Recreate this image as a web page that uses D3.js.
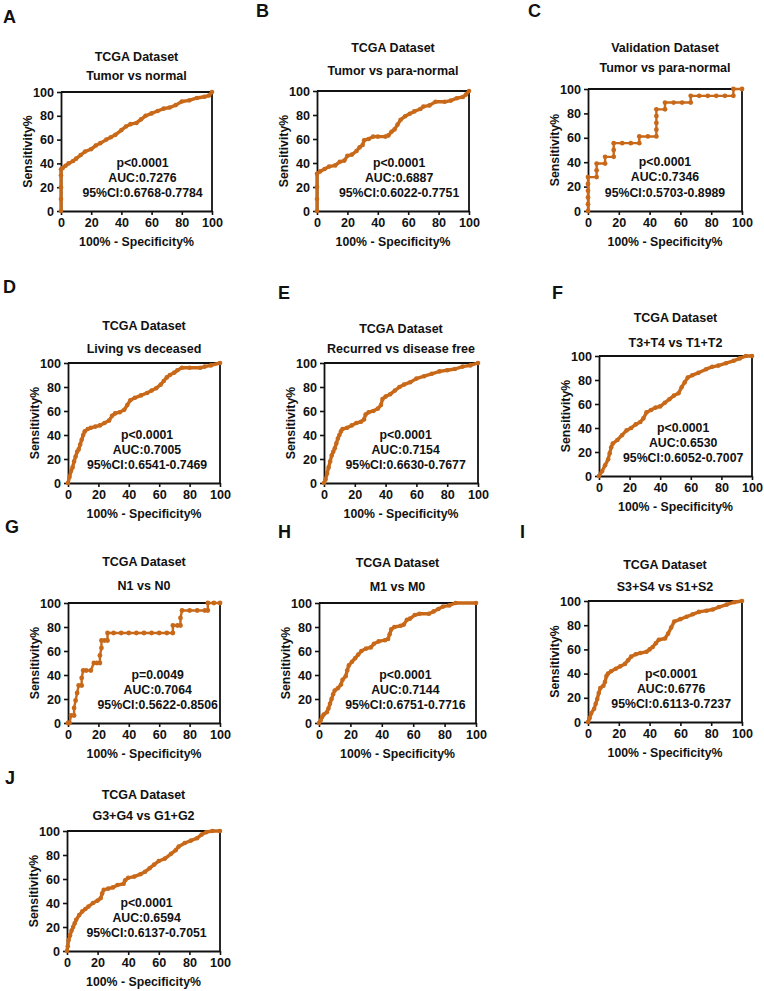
<!DOCTYPE html>
<html><head><meta charset="utf-8">
<script src="https://cdn.jsdelivr.net/npm/d3@7"></script>
<style>
html,body{margin:0;padding:0;background:#fff;}
svg text{font-family:"Liberation Sans",Arial,sans-serif;font-weight:bold;fill:#111;}
</style></head>
<body>
<svg id="chart" width="764" height="991"></svg>
<script>
// ---- data (x = 100% - Specificity%, y = Sensitivity%) ----
const panelLetters = ["A","B","C","D","E","F","G","H","I","J"];
const titleLine1 = ["TCGA Dataset","TCGA Dataset","Validation Dataset","TCGA Dataset","TCGA Dataset","TCGA Dataset","TCGA Dataset","TCGA Dataset","TCGA Dataset","TCGA Dataset"];
const titleLine2 = ["Tumor vs normal","Tumor vs para-normal","Tumor vs para-normal","Living vs deceased","Recurred vs disease free","T3+T4 vs T1+T2","N1 vs N0","M1 vs M0","S3+S4 vs S1+S2","G3+G4 vs G1+G2"];
const pValues = ["p<0.0001","p<0.0001","p<0.0001","p<0.0001","p<0.0001","p<0.0001","p=0.0049","p<0.0001","p<0.0001","p<0.0001"];
const aucValues = ["AUC:0.7276","AUC:0.6887","AUC:0.7346","AUC:0.7005","AUC:0.7154","AUC:0.6530","AUC:0.7064","AUC:0.7144","AUC:0.6776","AUC:0.6594"];
const ciValues = ["95%CI:0.6768-0.7784","95%CI:0.6022-0.7751","95%CI:0.5703-0.8989","95%CI:0.6541-0.7469","95%CI:0.6630-0.7677","95%CI:0.6052-0.7007","95%CI:0.5622-0.8506","95%CI:0.6751-0.7716","95%CI:0.6113-0.7237","95%CI:0.6137-0.7051"];
const tickValues = [0,20,40,60,80,100];
const xAxisTitle = "100% - Specificity%";
const yAxisTitle = "Sensitivity%";

const rocA = [[0,0],[0,10],[0,20],[0,30],[0,35],[1,36],[3,38],[5,40],[8,42],[10,44],[13,47],[16,50],[20,52],[23,55],[26,57],[30,60],[33,62],[36,64],[40,68],[43,71],[46,73],[50,74],[53,77],[56,80],[60,82],[64,84],[68,86],[72,87],[76,89],[80,92],[85,93],[90,95],[95,96],[98,97],[100,100]];
const rocB = [[0,0],[0,10],[0,20],[0,31],[2,33],[5,35],[8,37],[12,38],[15,41],[18,42],[20,46],[23,47],[26,50],[28,53],[30,55],[31,59],[34,60],[37,62],[40,62],[45,62],[47,63],[49,66],[51,68],[53,72],[55,76],[58,79],[61,81],[64,83],[68,85],[70,87],[74,88],[78,91],[84,91],[88,92],[92,94],[96,95],[98,97],[100,100]];
const rocC = [[0,0],[0,5.6],[0,11.1],[0,16.7],[0,22.2],[0,27.8],[5.6,27.8],[5.6,33.3],[5.6,38.9],[11.1,38.9],[11.1,44.4],[16.7,44.4],[16.7,50],[16.7,55.6],[22.2,55.6],[27.8,55.6],[33.3,55.6],[33.3,61.1],[38.9,61.1],[44.4,61.1],[44.4,66.7],[44.4,72.2],[44.4,77.8],[44.4,83.3],[50,83.3],[50,88.9],[55.6,88.9],[61.1,88.9],[66.7,88.9],[66.7,94.4],[72.2,94.4],[77.8,94.4],[83.3,94.4],[88.9,94.4],[94.4,94.4],[94.4,100],[100,100]];
const rocD = [[0,0],[1,5],[2,10],[3,13],[4,18],[5,22],[6,26],[7,28],[8,32],[9,36],[10,40],[11,43],[13,45],[15,46],[18,47],[21,48],[24,50],[27,52],[29,56],[31,58],[34,59],[37,61],[39,65],[41,69],[44,71],[48,73],[52,75],[55,77],[58,79],[61,82],[63,85],[65,88],[67,90],[70,92],[72,94],[75,96],[80,96],[87,96],[90,97],[94,98],[100,100]];
const rocE = [[0,0],[1,3],[2,8],[3,13],[4,18],[5,23],[6,26],[7,29],[8,33],[9,37],[10,40],[11,43],[12,45],[15,46],[18,48],[21,50],[24,51],[26,53],[27,57],[29,59],[32,60],[35,62],[37,65],[38,70],[40,72],[43,74],[46,77],[49,80],[52,82],[56,84],[60,87],[65,89],[70,91],[75,93],[80,94],[85,95],[90,97],[95,98],[100,100]];
const rocF = [[0,0],[2,4],[4,9],[6,14],[7,19],[8,24],[9,27],[12,30],[15,34],[18,38],[21,40],[24,43],[27,45],[29,48],[31,53],[34,55],[37,57],[40,58],[43,61],[46,64],[49,67],[52,69],[54,74],[56,78],[58,82],[61,84],[65,86],[70,89],[74,91],[78,92],[83,94],[88,96],[92,98],[96,100],[100,100]];
const rocG = [[0,0],[1,0],[2,6.25],[4,6.25],[4,12.5],[5,18.75],[6,25],[7,31.25],[9,31.25],[9,37.5],[10,43.75],[12,43.75],[15,43.75],[17,50],[19,50],[21,50],[21,56.25],[22,62.5],[22,68.75],[24,68.75],[26,68.75],[26,75],[30,75],[35,75],[40,75],[45,75],[50,75],[55,75],[60,75],[65,75],[69,75],[69,81.25],[72,81.25],[74,81.25],[74,87.5],[75,93.75],[80,93.75],[85,93.75],[90,93.75],[92,93.75],[92,100],[96,100],[100,100]];
const rocH = [[0,0],[1,2],[2,5],[3,7],[5,9],[6,12],[7,16],[8,20],[9,24],[10,27],[12,29],[14,32],[15,36],[17,39],[18,44],[19,48],[21,51],[23,54],[25,57],[27,60],[30,62],[33,63],[35,66],[38,68],[42,69],[44,70],[45,74],[46,78],[48,80],[52,81],[54,82],[56,86],[58,87],[61,90],[64,91],[70,91],[73,93],[76,95],[79,97],[83,98],[87,100],[100,100]];
const rocI = [[0,0],[1,3],[2,7],[4,11],[5,15],[6,19],[7,24],[8,28],[10,30],[11,33],[12,38],[13,40],[15,42],[18,44],[21,46],[24,48],[26,51],[28,54],[31,56],[34,57],[38,58],[40,60],[42,62],[44,65],[46,68],[50,69],[52,73],[54,78],[56,83],[60,85],[64,87],[68,89],[72,91],[77,92],[81,93],[85,95],[90,97],[95,99],[100,100]];
const rocJ = [[0,0],[0.5,4],[1,9],[2,13],[3,17],[4,20],[5,23],[6,26],[8,30],[10,33],[12,35],[14,37],[17,40],[20,42],[22,44],[23,48],[24,51],[27,52],[30,53],[33,55],[37,56],[38,59],[40,61],[44,62],[48,64],[51,66],[54,69],[57,72],[60,75],[64,77],[68,81],[71,84],[73,87],[77,90],[81,92],[85,94],[88,97],[91,99],[95,100],[100,100]];
const rocSeries = [rocA,rocB,rocC,rocD,rocE,rocF,rocG,rocH,rocI,rocJ];

// ---- layout (pixel boxes of each plot area) ----
const plotBoxes = [
  {x0:61,x1:212,y0:92,y1:211,t1:57,t2:76,lx:3,ly:17,ax:54},
  {x0:317,x1:469,y0:91,y1:211,t1:48,t2:71,lx:256,ly:11,ax:54},
  {x0:588,x1:742,y0:89,y1:211,t1:48,t2:68,lx:528,ly:11,ax:50},
  {x0:68,x1:220,y0:363,y1:483,t1:326,t2:349,lx:3,ly:287,ax:52},
  {x0:324,x1:478,y0:363,y1:483,t1:329,t2:349,lx:278,ly:293,ax:53},
  {x0:599,x1:752,y0:356,y1:476,t1:318,t2:343,lx:552,ly:293,ax:55},
  {x0:68,x1:220,y0:603,y1:723,t1:562,t2:586,lx:5,ly:527,ax:59},
  {x0:319,x1:476,y0:603,y1:723,t1:563,t2:587,lx:278,ly:532,ax:55},
  {x0:588,x1:742,y0:601,y1:722,t1:565,t2:587,lx:520,ly:532,ax:54},
  {x0:67,x1:220,y0:831,y1:951,t1:795,t2:816,lx:5,ly:778,ax:52}
];

const curveColor = "#c8691a";
const svg = d3.select("#chart");

rocSeries.forEach((data, i) => {
  const b = plotBoxes[i];
  const g = svg.append("g");
  const x = d3.scaleLinear().domain([0,100]).range([b.x0,b.x1]);
  const y = d3.scaleLinear().domain([0,100]).range([b.y1,b.y0]);

  g.append("text").attr("x",b.lx).attr("y",b.ly).attr("dominant-baseline","central")
    .attr("font-size",18).text(panelLetters[i]);
  const cx = (b.x0+b.x1)/2;
  g.append("text").attr("x",cx).attr("y",b.t1).attr("text-anchor","middle").attr("dominant-baseline","central")
    .attr("font-size",12.5).text(titleLine1[i]);
  g.append("text").attr("x",cx).attr("y",b.t2).attr("text-anchor","middle").attr("dominant-baseline","central")
    .attr("font-size",12.5).text(titleLine2[i]);

  g.append("path").attr("d",`M${b.x0},${b.y0}H${b.x1}V${b.y1}`).attr("fill","none").attr("stroke","#111").attr("stroke-width",1.8);

  const xAxis = g.append("g").attr("transform",`translate(0,${b.y1})`)
    .call(d3.axisBottom(x).tickValues(tickValues).tickSize(4).tickPadding(3).tickSizeOuter(0));
  const yAxis = g.append("g").attr("transform",`translate(${b.x0},0)`)
    .call(d3.axisLeft(y).tickValues(tickValues).tickSize(4).tickPadding(3).tickSizeOuter(0));
  [xAxis,yAxis].forEach(ax => {
    ax.select(".domain").attr("stroke","#111").attr("stroke-width",1.8);
    ax.selectAll(".tick line").attr("stroke","#111").attr("stroke-width",1.6);
    ax.selectAll(".tick text").attr("font-size",12.6).attr("fill","#111")
      .style("font-family","'Liberation Sans',Arial,sans-serif").style("font-weight","bold");
    ax.attr("font-family",null).attr("font-size",null);
  });

  g.append("text").attr("x",cx).attr("y",b.y1+31).attr("text-anchor","middle").attr("dominant-baseline","central")
    .attr("font-size",12.3).text(xAxisTitle);
  g.append("text").attr("transform",`translate(${b.x0-33},${(b.y0+b.y1)/2}) rotate(-90)`)
    .attr("text-anchor","middle").attr("dominant-baseline","central").attr("font-size",12.3).text(yAxisTitle);

  const line = d3.line().x(d=>x(d[0])).y(d=>y(d[1]));
  const thin = (i===2||i===6);
  g.append("path").datum(data).attr("d",line).attr("fill","none")
    .attr("stroke",curveColor).attr("stroke-width",thin?2.4:3.4).attr("stroke-linejoin","round").attr("stroke-linecap","round");
  g.selectAll("circle.pt").data(data).join("circle").attr("class","pt")
    .attr("cx",d=>x(d[0])).attr("cy",d=>y(d[1])).attr("r",thin?2.4:2.3).attr("fill",curveColor);

  const ann = [[pValues[i],40],[aucValues[i],27.5],[ciValues[i],15]];
  ann.forEach(([t,v]) => {
    g.append("text").attr("x",x(b.ax)).attr("y",y(v)).attr("text-anchor","middle")
      .attr("dominant-baseline","central").attr("font-size",12.3).text(t);
  });
});
</script>
</body></html>
